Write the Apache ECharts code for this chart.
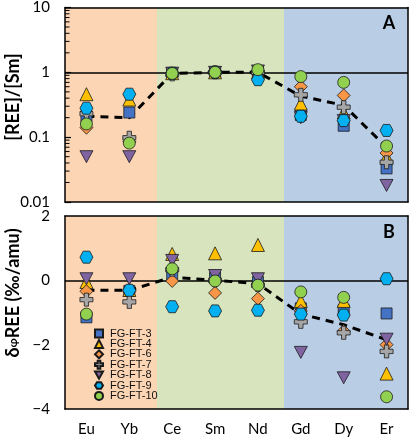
<!DOCTYPE html>
<html><head><meta charset="utf-8">
<script src="https://cdn.jsdelivr.net/npm/echarts@6/dist/echarts.min.js"></script>
<style>html,body{margin:0;padding:0;background:#fff}#c{width:410px;height:440px}</style>
</head><body><div id="c"></div>
<script>
// ---- data ----
const categories = ['Eu','Yb','Ce','Sm','Nd','Gd','Dy','Er'];
const seriesNames = ['FG-FT-3','FG-FT-4','FG-FT-6','FG-FT-7','FG-FT-8','FG-FT-9','FG-FT-10'];
// Panel A: [REE]/[Sm]
const ratioFT3  = [0.21, 0.24, 0.97, 1, 1.00, 0.22, 0.15, 0.033];
const ratioFT4  = [0.46, 0.38, 0.97, 1, 1.00, 0.33, 0.24, 0.050];
const ratioFT6  = [0.14, 0.085,0.95, 1, 1.00, 0.60, 0.44, 0.057];
const ratioFT7  = [0.23, 0.098,0.93, 1, 1.00, 0.45, 0.29, 0.041];
const ratioFT8  = [0.05, 0.05, 0.97, 1, 1.05, 0.20, 0.18, 0.018];
const ratioFT9  = [0.28, 0.46, 0.97, 1, 0.77, 0.21, 0.18, 0.127];
const ratioFT10 = [0.16, 0.081,0.96, 1, 1.10, 0.86, 0.70, 0.073];
const ratioMean = [0.21, 0.20, 0.96, 1, 1.00, 0.43, 0.31, 0.070];
// Panel B: delta REE (permil/amu)
const deltaFT3  = [-1.15, -0.33, 0.15, 0.08, -0.05, -0.87, -0.93, -1.03];
const deltaFT4  = [-0.05, -0.30, 0.82, 0.84, 1.10, -0.64, -0.64, -2.90];
const deltaFT6  = [-0.34, -0.35, -0.02, -0.39, -0.57, -0.95, -1.58, -2.00];
const deltaFT7  = [-0.60, -0.67, 0.33, 0.00, -0.15, -1.29, -1.63, -2.21];
const deltaFT8  = [0.05, 0.05, 0.62, 0.15, 0.05, -2.24, -3.03, -1.83];
const deltaFT9  = [0.72, -0.31, -0.82, -0.95, -0.93, -1.05, -1.08, 0.05];
const deltaFT10 = [-1.05, null, 0.36, -0.02, -0.15, -0.36, -0.53, -3.62];
const deltaMean = [-0.31, -0.31, 0.10, 0.00, -0.10, -1.05, -1.38, -1.85];
const ratioTicks = [0.01, 0.1, 1, 10];
const deltaTicks = [-4, -2, 0, 2];

// ---- styles ----
const ratioSets = [ratioFT3, ratioFT4, ratioFT6, ratioFT7, ratioFT8, ratioFT9, ratioFT10];
const deltaSets = [deltaFT3, deltaFT4, deltaFT6, deltaFT7, deltaFT8, deltaFT9, deltaFT10];
const marks = [
  {symbol:'rect', size:11, color:'#4472C4'},
  {symbol:'triangle', size:13, color:'#FFC000'},
  {symbol:'diamond', size:13, color:'#F79646'},
  {symbol:'path://M4,0 H8 V4 H12 V8 H8 V12 H4 V8 H0 V4 H4 Z', size:13, color:'#A6A6A6'},
  {symbol:'path://M0,0 L10,0 L5,9 Z', size:[13,12], color:'#8064A2'},
  {symbol:'path://M0,5 L3,0 L9,0 L12,5 L9,10 L3,10 Z', size:[13,12], color:'#00B0F0'},
  {symbol:'circle', size:12, color:'#92D050'}
];
const bandEdges = [-0.5, 1.646, 4.608, 7.5];
const bandColors = ['#FCD5B5', '#D7E4BD', '#B9CDE5'];
const tickFont = 'Lato, "Open Sans", sans-serif';
const axisLine = {show:true, onZero:false, lineStyle:{color:'#000', width:1.5}};

function bandSeries(xi, yi){
  return {type:'line', xAxisIndex:xi, yAxisIndex:yi, data:[], silent:true, z:1,
    markArea:{silent:true, data: bandColors.map((c,i)=>[{xAxis:bandEdges[i], itemStyle:{color:c}},{xAxis:bandEdges[i+1]}])}};
}
function refLine(xi, yi, v){
  return {type:'line', xAxisIndex:xi, yAxisIndex:yi, data:[], silent:true, z:3,
    markLine:{silent:true, symbol:'none', label:{show:false}, lineStyle:{color:'#000', width:1.5, type:'solid'}, data:[{yAxis:v}]}};
}
function meanSeries(xi, yi, d){
  return {type:'line', xAxisIndex:xi, yAxisIndex:yi, data:d, symbol:'none', silent:true, z:4,
    lineStyle:{color:'#000', width:3, type:[8,6]}};
}
function scatterSet(xi, yi, sets){
  return sets.map((d,i)=>({
    name: seriesNames[i], type:'scatter', xAxisIndex:xi, yAxisIndex:yi, data:d,
    symbol: marks[i].symbol, symbolSize: marks[i].size, z:5+i,
    itemStyle:{color:marks[i].color, borderColor:'#1a1a1a', borderWidth:0.8, opacity:1}
  }));
}
// minor ticks of log axis
const minorVals = [];
for (let e=-2;e<1;e++) for (let m=2;m<10;m++) minorVals.push(m*Math.pow(10,e));
const minorTickSeries = {
  type:'custom', xAxisIndex:1, yAxisIndex:0, silent:true, z:20, clip:false,
  data: minorVals.map(v=>[0, v]),
  renderItem:(p, api)=>{
    const pt = api.coord([-0.5, api.value(1)]);
    return {type:'line', shape:{x1:pt[0], y1:pt[1], x2:pt[0]+4.5, y2:pt[1]}, style:{stroke:'#000', lineWidth:1}};
  }
};

const chart = echarts.init(document.getElementById('c'), null, {renderer:'canvas'});
chart.setOption({
  animation:false,
  grid:[
    {left:65, top:7, width:343, height:195},
    {left:65, top:216, width:343, height:193}
  ],
  xAxis:[
    {type:'category', gridIndex:0, data:categories, position:'bottom', boundaryGap:true, z:10,
      axisLine:axisLine, axisTick:{inside:true, alignWithLabel:true, length:5, lineStyle:{color:'#000', width:1.5}},
      axisLabel:{show:false}, splitLine:{show:false}},
    {type:'value', gridIndex:0, position:'top', min:-0.5, max:7.5, z:10, axisLine:axisLine,
      axisTick:{show:false}, axisLabel:{show:false}, splitLine:{show:false}},
    {type:'category', gridIndex:1, data:categories, position:'bottom', boundaryGap:true, z:10,
      axisLine:axisLine, axisTick:{inside:true, alignWithLabel:true, length:5, lineStyle:{color:'#000', width:1.5}},
      axisLabel:{show:true, margin:13, fontSize:15, color:'#000', fontFamily:tickFont}, splitLine:{show:false}},
    {type:'value', gridIndex:1, position:'top', min:-0.5, max:7.5, z:10, axisLine:axisLine,
      axisTick:{show:false}, axisLabel:{show:false}, splitLine:{show:false}}
  ],
  yAxis:[
    {type:'log', gridIndex:0, position:'left', logBase:10, min:ratioTicks[0], max:ratioTicks[ratioTicks.length-1], z:10,
      axisLine:axisLine, axisTick:{inside:true, length:6, lineStyle:{color:'#000', width:1.2}},
      axisLabel:{margin:15, fontSize:15, color:'#000', fontFamily:tickFont, formatter:v=>String(+v.toPrecision(3))},
      splitLine:{show:false}},
    {type:'value', gridIndex:0, position:'right', min:0, max:1, z:10, axisLine:axisLine,
      axisTick:{show:false}, axisLabel:{show:false}, splitLine:{show:false}},
    {type:'value', gridIndex:1, position:'left', min:deltaTicks[0], max:deltaTicks[deltaTicks.length-1], interval:2, z:10,
      axisLine:axisLine, axisTick:{show:false},
      axisLabel:{margin:15, fontSize:15, color:'#000', fontFamily:tickFont, formatter:v=> v<0 ? '\u2212'+Math.abs(v) : String(v)},
      splitLine:{show:false}},
    {type:'value', gridIndex:1, position:'right', min:0, max:1, z:10, axisLine:axisLine,
      axisTick:{show:false}, axisLabel:{show:false}, splitLine:{show:false}}
  ],
  legend:{
    orient:'vertical', left:94, top:328, itemWidth:8, itemHeight:8, itemGap:-0.6, padding:0,
    data: seriesNames, textStyle:{fontSize:11, lineHeight:10, color:'#111', fontFamily:'"Liberation Sans", Arial, sans-serif', padding:[0,0,0,2]},
    selectedMode:false
  },
  graphic:[
    {type:'text', x:13, y:97, rotation:Math.PI/2, z:50,
      style:{text:'[REE]/[Sm]', font:'bold 18px Lato, "Open Sans", sans-serif', fill:'#000', textAlign:'center', textVerticalAlign:'middle'}},
    {type:'text', x:13, y:293, rotation:Math.PI/2, z:50,
      style:{text:'{a|δ}{b|φ}{a|REE (‰/amu)}', textAlign:'center', textVerticalAlign:'middle',
        rich:{a:{font:'bold 18px Lato, "Open Sans", sans-serif', fill:'#000'}, b:{font:'bold 12px Lato, "Open Sans", sans-serif', fill:'#000'}}}},
    {type:'text', x:389, y:23, z:50, style:{text:'A', font:'bold 18px Lato, sans-serif', fill:'#000', textAlign:'center', textVerticalAlign:'middle'}},
    {type:'text', x:389, y:232, z:50, style:{text:'B', font:'bold 18px Lato, sans-serif', fill:'#000', textAlign:'center', textVerticalAlign:'middle'}}
  ],
  series:[
    bandSeries(1,0), bandSeries(3,2),
    refLine(1,0,1), refLine(3,2,0),
    meanSeries(0,0,ratioMean), meanSeries(2,2,deltaMean),
    ...scatterSet(0,0,ratioSets),
    ...scatterSet(2,2,deltaSets),
    minorTickSeries
  ]
});
</script></body></html>
